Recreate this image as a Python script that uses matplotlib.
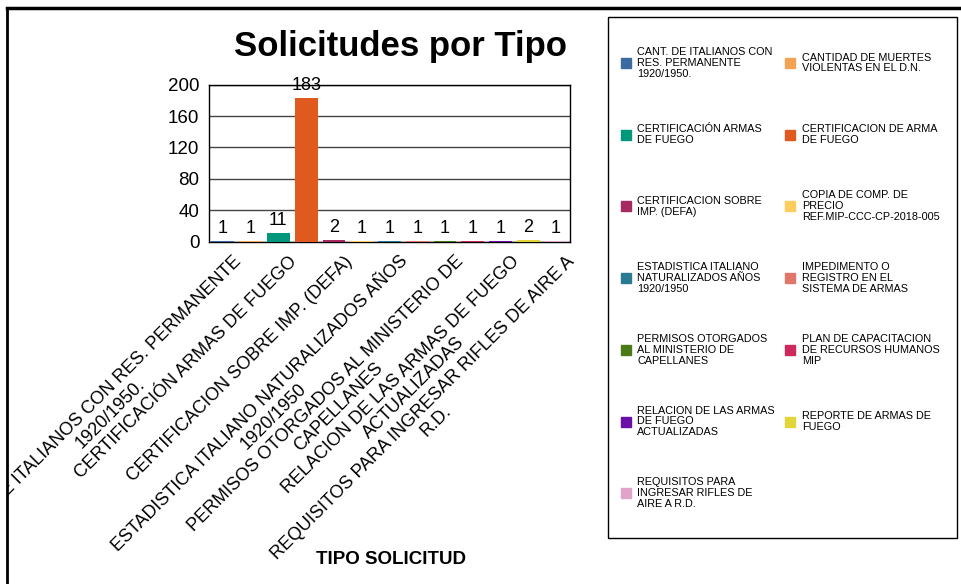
import matplotlib
matplotlib.use("Agg")
import matplotlib.pyplot as plt
import matplotlib.transforms as mtransforms
from matplotlib.patches import Rectangle
from matplotlib.lines import Line2D

plt.rcParams['font.family'] = ['Liberation Sans', 'DejaVu Sans']

# datos
categorias = [
    "CANT. DE ITALIANOS CON RES. PERMANENTE 1920/1950.",
    "CANTIDAD DE MUERTES VIOLENTAS EN EL D.N.",
    "CERTIFICACIÓN ARMAS DE FUEGO",
    "CERTIFICACION DE ARMA DE FUEGO",
    "CERTIFICACION SOBRE IMP. (DEFA)",
    "COPIA DE COMP. DE PRECIO REF.MIP-CCC-CP-2018-005",
    "ESTADISTICA ITALIANO NATURALIZADOS AÑOS 1920/1950",
    "IMPEDIMENTO O REGISTRO EN EL SISTEMA DE ARMAS",
    "PERMISOS OTORGADOS AL MINISTERIO DE CAPELLANES",
    "PLAN DE CAPACITACION DE RECURSOS HUMANOS MIP",
    "RELACION DE LAS ARMAS DE FUEGO ACTUALIZADAS",
    "REPORTE DE ARMAS DE FUEGO",
    "REQUISITOS PARA INGRESAR RIFLES DE AIRE A R.D.",
]
cantidades = [1, 1, 11, 183, 2, 1, 1, 1, 1, 1, 1, 2, 1]

# etiquetas del eje x (solo una de cada dos)
etiquetas_x = [
    "CANT. DE ITALIANOS CON RES. PERMANENTE\n1920/1950.", "",
    "CERTIFICACIÓN ARMAS DE FUEGO", "",
    "CERTIFICACION SOBRE IMP. (DEFA)", "",
    "ESTADISTICA ITALIANO NATURALIZADOS AÑOS\n1920/1950", "",
    "PERMISOS OTORGADOS AL MINISTERIO DE\nCAPELLANES", "",
    "RELACION DE LAS ARMAS DE FUEGO\nACTUALIZADAS", "",
    "REQUISITOS PARA INGRESAR RIFLES DE AIRE A\nR.D.",
]

# etiquetas de la leyenda
etiquetas_leyenda = [
    "CANT. DE ITALIANOS CON\nRES. PERMANENTE\n1920/1950.",
    "CANTIDAD DE MUERTES\nVIOLENTAS EN EL D.N.",
    "CERTIFICACIÓN ARMAS\nDE FUEGO",
    "CERTIFICACION DE ARMA\nDE FUEGO",
    "CERTIFICACION SOBRE\nIMP. (DEFA)",
    "COPIA DE COMP. DE\nPRECIO\nREF.MIP-CCC-CP-2018-005",
    "ESTADISTICA ITALIANO\nNATURALIZADOS AÑOS\n1920/1950",
    "IMPEDIMENTO O\nREGISTRO EN EL\nSISTEMA DE ARMAS",
    "PERMISOS OTORGADOS\nAL MINISTERIO DE\nCAPELLANES",
    "PLAN DE CAPACITACION\nDE RECURSOS HUMANOS\nMIP",
    "RELACION DE LAS ARMAS\nDE FUEGO\nACTUALIZADAS",
    "REPORTE DE ARMAS DE\nFUEGO",
    "REQUISITOS PARA\nINGRESAR RIFLES DE\nAIRE A R.D.",
]

colores = ['#3a6aa0', '#f2a354', '#00977a', '#e05a1f', '#a52a62', '#fdcd5e',
           '#2a7a94', '#e0756a', '#4a7b18', '#cc2a5c', '#6a0fa8', '#e2d53a',
           '#e0a4cb']

W, H = 961, 584
fig = plt.figure(figsize=(W/100, H/100), dpi=100)

# eje principal
ax = fig.add_axes([209/W, 1-241.7/H, 361/W, 157/H])
x = list(range(len(cantidades)))
barras = ax.bar(x, cantidades, width=0.82, color=colores, zorder=3)
ax.bar_label(barras, padding=3, fontsize=13)
ax.set_xlim(-0.5, len(cantidades)-0.5)
ax.set_ylim(0, 200)
ax.set_yticks([0, 40, 80, 120, 160, 200])
ax.yaxis.grid(True, color='#444444', lw=1, zorder=0)
ax.tick_params(axis='y', length=0, pad=7, labelsize=13.5)
ax.tick_params(axis='x', length=0, pad=8)
for s in ax.spines.values():
    s.set_color('black')
    s.set_linewidth(1)

ax.set_xticks(x)
ax.set_xticklabels(etiquetas_x, fontsize=13, rotation=45, ha='right', va='top',
                   rotation_mode='anchor', multialignment='center',
                   linespacing=1.1)
desplaza = mtransforms.ScaledTranslation(0.10, 0, fig.dpi_scale_trans)
caja = mtransforms.Bbox([[8, 0], [W, H]])
for lbl in ax.get_xticklabels():
    lbl.set_transform(lbl.get_transform() + desplaza)
    lbl.set_clip_box(caja)
    lbl.set_clip_on(True)

# titulos
fig.text(400/W, 1-56/H, "Solicitudes por Tipo", ha='center', va='baseline',
         fontsize=25, fontweight='bold')
fig.text(391/W, 1-564/H, "TIPO SOLICITUD", ha='center', va='baseline',
         fontsize=13.5, fontweight='bold')

# leyenda dibujada a mano
fig.add_artist(Rectangle((608/W, 1-538/H), 349/W, 521/H, transform=fig.transFigure,
                         fill=False, edgecolor='black', lw=1))
for i, (etq, col) in enumerate(zip(etiquetas_leyenda, colores)):
    fila, columna = i // 2, i % 2
    yc = 63 + fila*71.7
    xm = 621 if columna == 0 else 785
    xt = 637 if columna == 0 else 802
    fig.add_artist(Rectangle((xm/W, 1-(yc+5)/H), 10/W, 10/H,
                             transform=fig.transFigure, color=col))
    fig.text(xt/W, 1-yc/H, etq, ha='left', va='center', fontsize=7.8,
             linespacing=1.12)

# marco exterior
fig.add_artist(Line2D([7/W, 1], [1-8/H, 1-8/H], transform=fig.transFigure,
                      color='black', lw=2.5))
fig.add_artist(Line2D([7/W, 7/W], [0, 1-8/H], transform=fig.transFigure,
                      color='black', lw=2))

fig.savefig('out.png', dpi=100)
